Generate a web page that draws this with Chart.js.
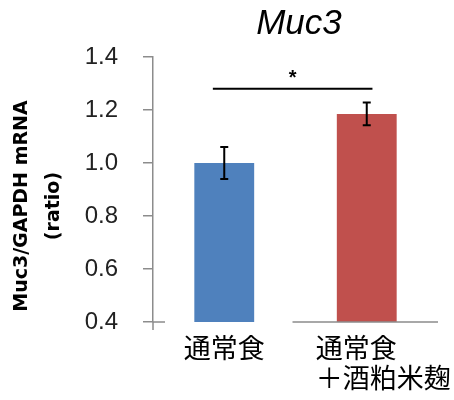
<!DOCTYPE html>
<html>
<head>
<meta charset="utf-8">
<script src="https://cdn.jsdelivr.net/npm/chart.js@4"></script>
<style>
  html, body { margin: 0; padding: 0; background: #fff; }
  #wrap { width: 454px; height: 400px; }
</style>
</head>
<body>
<div id="wrap"><canvas id="chart" width="454" height="400"></canvas></div>
<script>
// ======= Data =======
const groups   = [["通常食"], [" 　通常食　　", " 　＋酒粕米麹"]];
const means    = [1.0, 1.185];
const errors   = [0.06, 0.043];
const barColors = ["#4F81BD", "#C0504D"];
const yTicks   = { min: 0.4, max: 1.4, step: 0.2 };
const sigLevel = 1.28;    // height of the significance bracket
const sigMark  = "*";

// ======= Plugins =======
// error bars, significance bracket and the broken x axis line
const extras = {
  id: "extras",
  afterDatasetsDraw(chart) {
    const { ctx, chartArea, scales: { x, y } } = chart;
    ctx.save();

    // error bars
    ctx.strokeStyle = "#000";
    ctx.lineWidth = 2;
    means.forEach((m, i) => {
      const cx = x.getPixelForValue(i);
      const top = y.getPixelForValue(m + errors[i]);
      const bot = y.getPixelForValue(m - errors[i]);
      ctx.beginPath();
      ctx.moveTo(cx, top); ctx.lineTo(cx, bot);
      ctx.moveTo(cx - 4, top); ctx.lineTo(cx + 4, top);
      ctx.moveTo(cx - 4, bot); ctx.lineTo(cx + 4, bot);
      ctx.stroke();
    });

    // significance bracket
    const sy = y.getPixelForValue(sigLevel);
    const sx1 = x.getPixelForValue(-0.08);
    const sx2 = x.getPixelForValue(1.04);
    ctx.beginPath();
    ctx.moveTo(sx1, sy); ctx.lineTo(sx2, sy);
    ctx.stroke();
    ctx.fillStyle = "#000";
    ctx.font = "bold 20px 'Liberation Sans', Arial";
    ctx.textAlign = "center";
    ctx.textBaseline = "alphabetic";
    ctx.fillText(sigMark, (sx1 + sx2) / 2, sy - 5);

    // x axis line (only partly drawn in the original)
    ctx.strokeStyle = "#8c8c8c";
    ctx.lineWidth = 1.5;
    const b = chartArea.bottom;
    ctx.beginPath();
    ctx.moveTo(chartArea.left, b); ctx.lineTo(chartArea.left + 12, b);
    ctx.moveTo(x.getPixelForValue(0.5) - 3, b); ctx.lineTo(chartArea.right, b);
    ctx.moveTo(chartArea.left, b); ctx.lineTo(chartArea.left, b + 8);
    ctx.stroke();
    ctx.restore();
  }
};

// ======= Chart =======
new Chart(document.getElementById("chart"), {
  type: "bar",
  data: {
    labels: groups,
    datasets: [{
      data: means,
      backgroundColor: barColors,
      borderWidth: 0,
      barPercentage: 0.42,
      categoryPercentage: 1
    }]
  },
  options: {
    responsive: false,
    animation: false,
    layout: { padding: { left: 0, right: 16, top: 0, bottom: 0 } },
    plugins: {
      legend: { display: false },
      tooltip: { enabled: false },
      title: {
        display: true,
        text: "\u2009Muc3",
        fullSize: false,
        color: "#000",
        font: { family: "'Liberation Sans', Arial", size: 35, style: "italic", weight: "normal", lineHeight: 1.2 },
        padding: { top: 3, bottom: 12 }
      }
    },
    scales: {
      x: {
        border: { display: false },
        grid: { display: false, drawTicks: false },
        ticks: {
          color: "#000",
          padding: 11,
          maxRotation: 0,
          autoSkip: false,
          font: { family: "'Noto Sans CJK JP'", size: 27, lineHeight: 1.1 }
        },
        afterFit: (s) => { s.height = 78; s.paddingLeft = 0; s.paddingRight = 0; }
      },
      y: {
        min: yTicks.min,
        max: yTicks.max,
        border: { display: true, color: "#8c8c8c", width: 1.5 },
        grid: { drawOnChartArea: false, drawTicks: true, tickLength: 10, color: "#8c8c8c", lineWidth: 1.5 },
        ticks: {
          stepSize: yTicks.step,
          padding: 25,
          color: "#222",
          font: { family: "'Liberation Sans', Arial", size: 24 },
          callback: (v) => v.toFixed(1)
        },
        title: {
          display: true,
          text: ["Muc3/GAPDH mRNA     ", "(ratio)     "],
          color: "#000",
          padding: { top: 6, bottom: 0 },
          font: { family: "'DejaVu Sans'", size: 19, weight: "bold", lineHeight: 1.7 }
        },
        afterFit: (s) => { s.width = 153; }
      }
    }
  },
  plugins: [extras]
});
</script>
</body>
</html>
